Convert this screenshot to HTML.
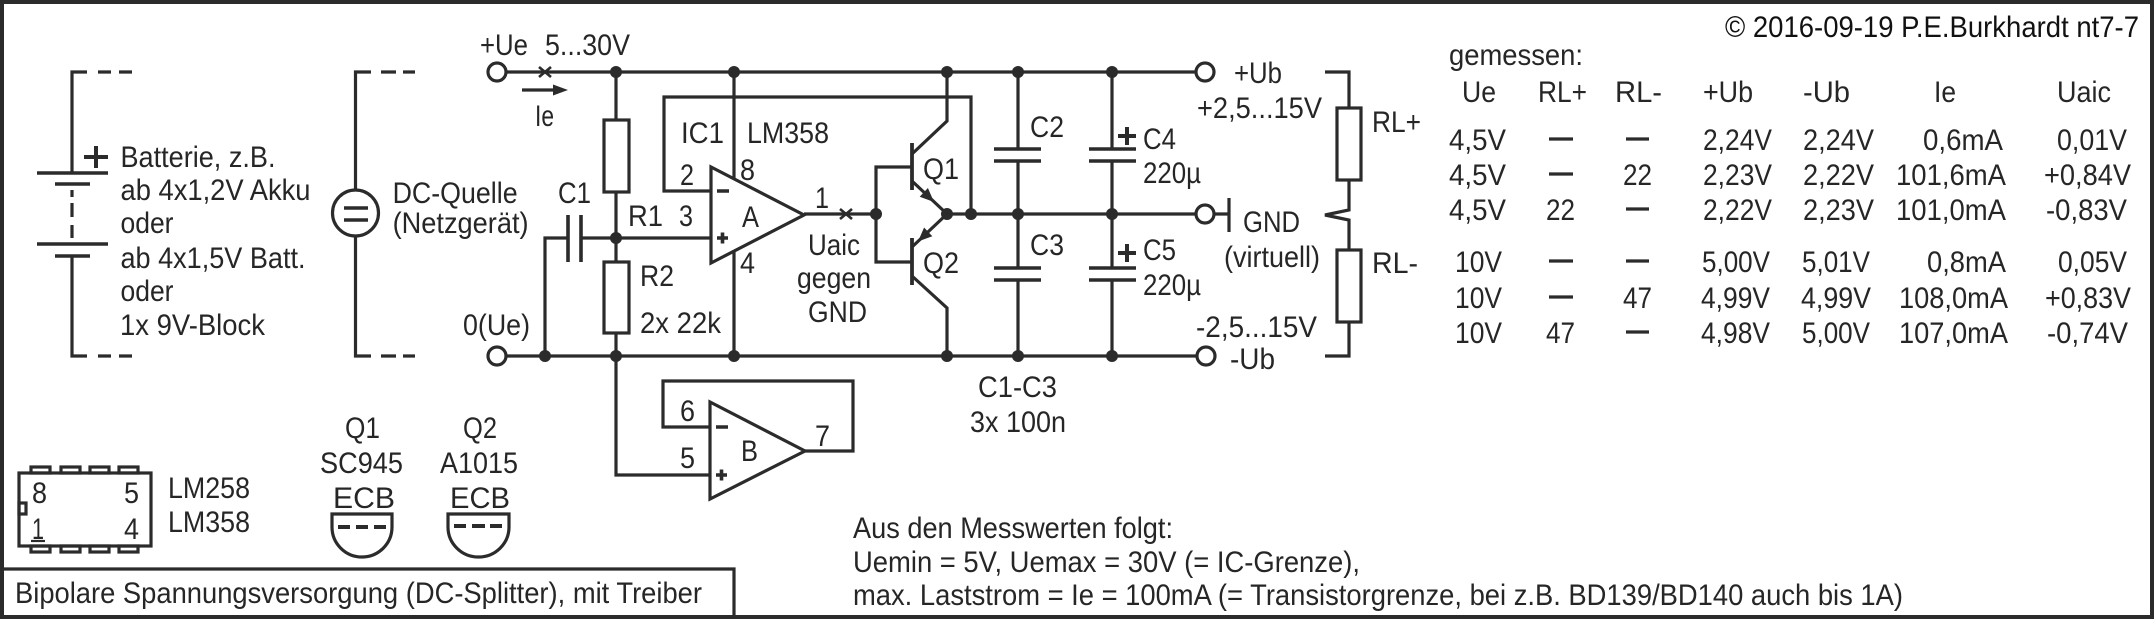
<!DOCTYPE html>
<html><head><meta charset="utf-8">
<style>
html,body{margin:0;padding:0;background:#fff;}
svg{display:block;}
text{font-family:"Liberation Sans",sans-serif;font-size:30px;fill:#262626;}
</style></head><body>
<svg width="2154" height="619" viewBox="0 0 2154 619" xmlns="http://www.w3.org/2000/svg">
<rect x="0" y="0" width="2154" height="619" fill="#fff"/>
<g fill="none" stroke="#2b2b2b" stroke-width="3.2" stroke-linecap="butt" stroke-linejoin="miter">
 <rect x="2" y="2" width="2150" height="615" stroke-width="4"/>
 <path d="M2 569 H734 V617"/>
 <!-- battery -->
 <path d="M87 72 H72 V173 M98 72 H111 M119 72 H132"/>
 <path d="M37 173 H108 M55 184 H90 M37 244 H108 M55 256 H90" stroke-width="3.6"/>
 <path d="M72 190 V197 M72 203 V217 M72 225 V238"/>
 <path d="M72 256 V356 H87 M98 356 H111 M119 356 H132"/>
 <path d="M84 157 H108 M96 146 V168" stroke-width="4"/>
 <!-- DC source -->
 <path d="M371 72 H355.5 V190 M355.5 236 V356 H371 M381 72 H396 M403 72 H415 M381 356 H396 M403 356 H415"/>
 <circle cx="355.5" cy="213" r="23"/>
 <path d="M344 208 H368 M344 220 H368" stroke-width="3.6"/>
 <!-- rails -->
 <path d="M506 72 H1196 M506 356 H1197 M947 214 H1196"/>
 <path d="M1214 214 H1229 M1229 198 V232"/>
 <!-- cross and arrow -->
 <path d="M539 67 L551 77 M539 77 L551 67" stroke-width="2.6"/>
 <path d="M522 90 H556"/>
 <!-- R1 R2 -->
 <path d="M616 72 V120 M616 192 V262 M616 333 V475 H710"/>
 <rect x="604" y="120" width="25" height="72"/>
 <rect x="604" y="262" width="25" height="71"/>
 <!-- C1 -->
 <path d="M616 238 H581 M568 238 H545 V356 M616 238 H711"/>
 <path d="M581 215 V262 M568 215 V262" stroke-width="3.6"/>
 <!-- op amp A -->
 <polygon points="711,167 711,263 804,215"/>
 <path d="M734 72 V179 M734 251 V356"/>
 <path d="M711 191 H664 V97 H971 V214"/>
 <path d="M804 214 H876"/>
 <path d="M840 209 L852 219 M840 219 L852 209" stroke-width="2.6"/>
 <path d="M717 191 H729 M717 238 H728 M722.5 232.5 V243.5" stroke-width="3.6"/>
 <!-- transistors -->
 <path d="M912 167 H876 V262 H912"/>
 <path d="M912 143 V190 M912 238 V285" stroke-width="3.8"/>
 <path d="M912 154 L947 121 V72 M912 181 L947 214 M947 214 L912 247 M912 276 L947 308 V356"/>
 <!-- C2 C3 -->
 <path d="M1018 72 V149 M1018 161 V268 M1018 280 V356"/>
 <path d="M994 149 H1041 M994 161 H1041 M994 268 H1041 M994 280 H1041" stroke-width="3.6"/>
 <!-- C4 C5 -->
 <path d="M1112 72 V149 M1112 161 V268 M1112 280 V356"/>
 <path d="M1089 149 H1136 M1089 161 H1136 M1089 268 H1136 M1089 280 H1136" stroke-width="3.6"/>
 <path d="M1118 136 H1136 M1127 127 V145 M1118 253 H1136 M1127 244 V262" stroke-width="4"/>
 <!-- RL -->
 <path d="M1325 72 H1349 V108 M1349 180 V210 L1325 215 L1349 220 V250 M1349 322 V356 H1325"/>
 <rect x="1337" y="108" width="24" height="72"/>
 <rect x="1337" y="250" width="24" height="72"/>
 <!-- op amp B -->
 <polygon points="710,402 710,499 805,451"/>
 <path d="M710 427 H663 V381 H853 V451 H805"/>
 <path d="M716 427 H728 M716 475 H727 M721.5 469.5 V480.5" stroke-width="3.6"/>
 <!-- chip -->
 <rect x="19" y="473" width="132" height="73"/>
 <rect x="31" y="467" width="19" height="6"/><rect x="61" y="467" width="19" height="6"/>
 <rect x="90" y="467" width="19" height="6"/><rect x="119" y="467" width="19" height="6"/>
 <rect x="31" y="546" width="19" height="6"/><rect x="61" y="546" width="19" height="6"/>
 <rect x="90" y="546" width="19" height="6"/><rect x="119" y="546" width="19" height="6"/>
 <rect x="19" y="503" width="7" height="11"/>
 <path d="M31 541 H45" stroke-width="2.2"/>
 <!-- TO-92 -->
 <path d="M332 514 H392 V527 A30 30 0 0 1 332 527 Z"/>
 <path d="M448 514 H509 V527 A30.5 30 0 0 1 448 527 Z"/>
 <path d="M338 527 H350 M356 527 H368 M374 527 H386 M454 526 H466 M472 526 H485 M490 526 H502" stroke-width="4"/>
 <!-- table dashes -->
 <path d="M1549 139 H1573 M1549 174 H1573 M1549 261 H1573 M1549 297 H1573 M1626 139 H1649 M1626 209 H1649 M1626 261 H1649 M1626 332 H1649"/>
</g>
<!-- terminals -->
<g fill="#fff" stroke="#2b2b2b" stroke-width="3.2">
 <circle cx="497" cy="72" r="9"/>
 <circle cx="497" cy="356" r="9"/>
 <circle cx="1205" cy="72" r="9"/>
 <circle cx="1205" cy="214" r="9"/>
 <circle cx="1206" cy="356" r="9"/>
</g>
<!-- filled: arrows & dots -->
<g fill="#2b2b2b" stroke="none">
 <polygon points="568,90 553,84.5 553,95.5"/>
 <polygon points="934,202 919.7,196.8 927.9,188"/>
 <polygon points="918,241.5 932.3,236.3 924.1,227.5"/>
 <circle cx="616" cy="72" r="6"/><circle cx="734" cy="72" r="6"/><circle cx="947" cy="72" r="6"/>
 <circle cx="1018" cy="72" r="6"/><circle cx="1112" cy="72" r="6"/>
 <circle cx="616" cy="238" r="6"/>
 <circle cx="876" cy="214" r="6"/><circle cx="947" cy="214" r="6"/><circle cx="971" cy="214" r="6"/>
 <circle cx="1018" cy="214" r="6"/><circle cx="1112" cy="214" r="6"/>
 <circle cx="545" cy="356" r="6"/><circle cx="616" cy="356" r="6"/><circle cx="734" cy="356" r="6"/>
 <circle cx="947" cy="356" r="6"/><circle cx="1018" cy="356" r="6"/><circle cx="1112" cy="356" r="6"/>
</g>
<!-- text -->
<g>
 <text x="120.5" y="167" textLength="155" lengthAdjust="spacingAndGlyphs">Batterie, z.B.</text>
 <text x="120.5" y="200" textLength="190" lengthAdjust="spacingAndGlyphs">ab 4x1,2V Akku</text>
 <text x="120.5" y="233" textLength="53" lengthAdjust="spacingAndGlyphs">oder</text>
 <text x="120.5" y="268" textLength="185" lengthAdjust="spacingAndGlyphs">ab 4x1,5V Batt.</text>
 <text x="120.5" y="301" textLength="53" lengthAdjust="spacingAndGlyphs">oder</text>
 <text x="120" y="335" textLength="145" lengthAdjust="spacingAndGlyphs">1x 9V-Block</text>
 <text x="392.6" y="203" textLength="125" lengthAdjust="spacingAndGlyphs">DC-Quelle</text>
 <text x="392.6" y="233" textLength="136" lengthAdjust="spacingAndGlyphs">(Netzgerät)</text>
 <text x="480" y="55" textLength="48" lengthAdjust="spacingAndGlyphs">+Ue</text>
 <text x="545" y="55" textLength="85" lengthAdjust="spacingAndGlyphs">5...30V</text>
 <text x="535" y="126" textLength="19" lengthAdjust="spacingAndGlyphs">Ie</text>
 <text x="558" y="203" textLength="33" lengthAdjust="spacingAndGlyphs">C1</text>
 <text x="628" y="226" textLength="35" lengthAdjust="spacingAndGlyphs">R1</text>
 <text x="679" y="226" textLength="14" lengthAdjust="spacingAndGlyphs">3</text>
 <text x="680" y="185" textLength="14" lengthAdjust="spacingAndGlyphs">2</text>
 <text x="681" y="143" textLength="43" lengthAdjust="spacingAndGlyphs">IC1</text>
 <text x="747" y="143" textLength="82" lengthAdjust="spacingAndGlyphs">LM358</text>
 <text x="740" y="180" textLength="15" lengthAdjust="spacingAndGlyphs">8</text>
 <text x="742" y="227" textLength="17" lengthAdjust="spacingAndGlyphs">A</text>
 <text x="740" y="273" textLength="15" lengthAdjust="spacingAndGlyphs">4</text>
 <text x="640" y="286" textLength="34" lengthAdjust="spacingAndGlyphs">R2</text>
 <text x="640" y="333" textLength="81" lengthAdjust="spacingAndGlyphs">2x 22k</text>
 <text x="815" y="208" textLength="14" lengthAdjust="spacingAndGlyphs">1</text>
 <text x="808" y="255" textLength="52" lengthAdjust="spacingAndGlyphs">Uaic</text>
 <text x="797" y="288" textLength="74" lengthAdjust="spacingAndGlyphs">gegen</text>
 <text x="808" y="322" textLength="59" lengthAdjust="spacingAndGlyphs">GND</text>
 <text x="923" y="179" textLength="36" lengthAdjust="spacingAndGlyphs">Q1</text>
 <text x="923" y="273" textLength="36" lengthAdjust="spacingAndGlyphs">Q2</text>
 <text x="463" y="335" textLength="67" lengthAdjust="spacingAndGlyphs">0(Ue)</text>
 <text x="1030" y="137" textLength="34" lengthAdjust="spacingAndGlyphs">C2</text>
 <text x="1030" y="255" textLength="34" lengthAdjust="spacingAndGlyphs">C3</text>
 <text x="1143" y="149" textLength="33" lengthAdjust="spacingAndGlyphs">C4</text>
 <text x="1143" y="183" textLength="58" lengthAdjust="spacingAndGlyphs">220µ</text>
 <text x="1143" y="260" textLength="33" lengthAdjust="spacingAndGlyphs">C5</text>
 <text x="1143" y="295" textLength="58" lengthAdjust="spacingAndGlyphs">220µ</text>
 <text x="1234" y="83" textLength="48" lengthAdjust="spacingAndGlyphs">+Ub</text>
 <text x="1197" y="118" textLength="125" lengthAdjust="spacingAndGlyphs">+2,5...15V</text>
 <text x="1243" y="232" textLength="57" lengthAdjust="spacingAndGlyphs">GND</text>
 <text x="1224" y="267" textLength="96" lengthAdjust="spacingAndGlyphs">(virtuell)</text>
 <text x="1196" y="337" textLength="121" lengthAdjust="spacingAndGlyphs">-2,5...15V</text>
 <text x="1230" y="369" textLength="45" lengthAdjust="spacingAndGlyphs">-Ub</text>
 <text x="1372" y="132" textLength="49" lengthAdjust="spacingAndGlyphs">RL+</text>
 <text x="1372" y="273" textLength="46" lengthAdjust="spacingAndGlyphs">RL-</text>

 <text x="1725" y="37" textLength="414" lengthAdjust="spacingAndGlyphs" style="fill:#111">© 2016-09-19 P.E.Burkhardt nt7-7</text>
 <text x="1449" y="65" textLength="134" lengthAdjust="spacingAndGlyphs">gemessen:</text>
 <text x="1462" y="102" textLength="34" lengthAdjust="spacingAndGlyphs">Ue</text>
 <text x="1538" y="102" textLength="49" lengthAdjust="spacingAndGlyphs">RL+</text>
 <text x="1615" y="102" textLength="47" lengthAdjust="spacingAndGlyphs">RL-</text>
 <text x="1703" y="102" textLength="50" lengthAdjust="spacingAndGlyphs">+Ub</text>
 <text x="1803" y="102" textLength="47" lengthAdjust="spacingAndGlyphs">-Ub</text>
 <text x="1934" y="102" textLength="22" lengthAdjust="spacingAndGlyphs">Ie</text>
 <text x="2057" y="102" textLength="54" lengthAdjust="spacingAndGlyphs">Uaic</text>

 <text x="1449" y="150" textLength="57" lengthAdjust="spacingAndGlyphs">4,5V</text>
 <text x="1449" y="185" textLength="57" lengthAdjust="spacingAndGlyphs">4,5V</text>
 <text x="1449" y="220" textLength="57" lengthAdjust="spacingAndGlyphs">4,5V</text>
 <text x="1455" y="272" textLength="47" lengthAdjust="spacingAndGlyphs">10V</text>
 <text x="1455" y="308" textLength="47" lengthAdjust="spacingAndGlyphs">10V</text>
 <text x="1455" y="343" textLength="47" lengthAdjust="spacingAndGlyphs">10V</text>

 <text x="1623" y="185" textLength="29" lengthAdjust="spacingAndGlyphs">22</text>
 <text x="1546" y="220" textLength="29" lengthAdjust="spacingAndGlyphs">22</text>
 <text x="1623" y="308" textLength="29" lengthAdjust="spacingAndGlyphs">47</text>
 <text x="1546" y="343" textLength="29" lengthAdjust="spacingAndGlyphs">47</text>

 <text x="1703" y="150" textLength="69" lengthAdjust="spacingAndGlyphs">2,24V</text>
 <text x="1703" y="185" textLength="69" lengthAdjust="spacingAndGlyphs">2,23V</text>
 <text x="1703" y="220" textLength="69" lengthAdjust="spacingAndGlyphs">2,22V</text>
 <text x="1702" y="272" textLength="68" lengthAdjust="spacingAndGlyphs">5,00V</text>
 <text x="1701" y="308" textLength="69" lengthAdjust="spacingAndGlyphs">4,99V</text>
 <text x="1701" y="343" textLength="69" lengthAdjust="spacingAndGlyphs">4,98V</text>

 <text x="1803" y="150" textLength="71" lengthAdjust="spacingAndGlyphs">2,24V</text>
 <text x="1803" y="185" textLength="71" lengthAdjust="spacingAndGlyphs">2,22V</text>
 <text x="1803" y="220" textLength="71" lengthAdjust="spacingAndGlyphs">2,23V</text>
 <text x="1802" y="272" textLength="68" lengthAdjust="spacingAndGlyphs">5,01V</text>
 <text x="1801" y="308" textLength="70" lengthAdjust="spacingAndGlyphs">4,99V</text>
 <text x="1802" y="343" textLength="68" lengthAdjust="spacingAndGlyphs">5,00V</text>

 <text x="1923" y="150" textLength="80" lengthAdjust="spacingAndGlyphs">0,6mA</text>
 <text x="1896" y="185" textLength="110" lengthAdjust="spacingAndGlyphs">101,6mA</text>
 <text x="1896" y="220" textLength="110" lengthAdjust="spacingAndGlyphs">101,0mA</text>
 <text x="1927" y="272" textLength="79" lengthAdjust="spacingAndGlyphs">0,8mA</text>
 <text x="1899" y="308" textLength="109" lengthAdjust="spacingAndGlyphs">108,0mA</text>
 <text x="1899" y="343" textLength="109" lengthAdjust="spacingAndGlyphs">107,0mA</text>

 <text x="2057" y="150" textLength="70" lengthAdjust="spacingAndGlyphs">0,01V</text>
 <text x="2044" y="185" textLength="87" lengthAdjust="spacingAndGlyphs">+0,84V</text>
 <text x="2046" y="220" textLength="81" lengthAdjust="spacingAndGlyphs">-0,83V</text>
 <text x="2058" y="272" textLength="69" lengthAdjust="spacingAndGlyphs">0,05V</text>
 <text x="2045" y="308" textLength="86" lengthAdjust="spacingAndGlyphs">+0,83V</text>
 <text x="2047" y="343" textLength="81" lengthAdjust="spacingAndGlyphs">-0,74V</text>

 <text x="32" y="503" textLength="15" lengthAdjust="spacingAndGlyphs">8</text>
 <text x="124" y="503" textLength="15" lengthAdjust="spacingAndGlyphs">5</text>
 <text x="32" y="539" textLength="12" lengthAdjust="spacingAndGlyphs">1</text>
 <text x="124" y="539" textLength="15" lengthAdjust="spacingAndGlyphs">4</text>
 <text x="168" y="498" textLength="82" lengthAdjust="spacingAndGlyphs">LM258</text>
 <text x="168" y="532" textLength="82" lengthAdjust="spacingAndGlyphs">LM358</text>
 <text x="345" y="438" textLength="35" lengthAdjust="spacingAndGlyphs">Q1</text>
 <text x="320" y="473" textLength="83" lengthAdjust="spacingAndGlyphs">SC945</text>
 <text x="333" y="508" textLength="62" lengthAdjust="spacingAndGlyphs">ECB</text>
 <text x="463" y="438" textLength="34" lengthAdjust="spacingAndGlyphs">Q2</text>
 <text x="440" y="473" textLength="78" lengthAdjust="spacingAndGlyphs">A1015</text>
 <text x="450" y="508" textLength="60" lengthAdjust="spacingAndGlyphs">ECB</text>
 <text x="680" y="421" textLength="15" lengthAdjust="spacingAndGlyphs">6</text>
 <text x="680" y="468" textLength="15" lengthAdjust="spacingAndGlyphs">5</text>
 <text x="741" y="461" textLength="17" lengthAdjust="spacingAndGlyphs">B</text>
 <text x="815" y="446" textLength="15" lengthAdjust="spacingAndGlyphs">7</text>
 <text x="978" y="397" textLength="79" lengthAdjust="spacingAndGlyphs">C1-C3</text>
 <text x="970" y="432" textLength="96" lengthAdjust="spacingAndGlyphs">3x 100n</text>
 <text x="853" y="538" textLength="320" lengthAdjust="spacingAndGlyphs">Aus den Messwerten folgt:</text>
 <text x="853" y="572" textLength="507" lengthAdjust="spacingAndGlyphs">Uemin = 5V, Uemax = 30V (= IC-Grenze),</text>
 <text x="853" y="605" textLength="1050" lengthAdjust="spacingAndGlyphs">max. Laststrom = Ie = 100mA (= Transistorgrenze, bei z.B. BD139/BD140 auch bis 1A)</text>
 <text x="15" y="603" textLength="687" lengthAdjust="spacingAndGlyphs">Bipolare Spannungsversorgung (DC-Splitter), mit Treiber</text>
</g>
</svg>
</body></html>
